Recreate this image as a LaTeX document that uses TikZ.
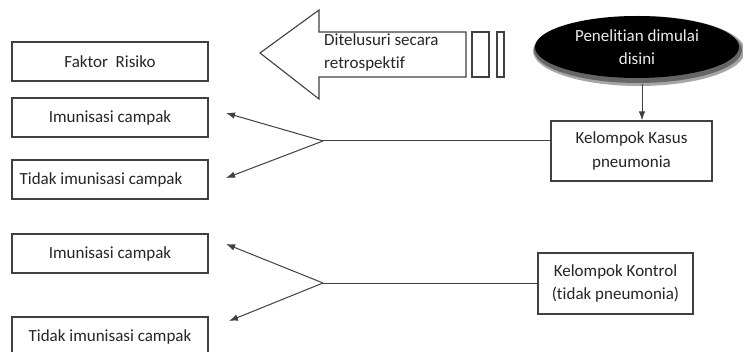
\documentclass[tikz,border=0pt]{standalone}
\usepackage{fontspec}
\setmainfont{Carlito}[Ligatures={NoCommon}]
\usetikzlibrary{arrows.meta,shapes.geometric}
\begin{document}
\begin{tikzpicture}[x=1pt,y=-1pt,
  every node/.style={font=\fontsize{17}{23.5}\selectfont, text=black!85},
  box/.style={draw=black!75, line width=1.2pt, rectangle, inner sep=0pt, align=center},
  conn/.style={draw=black!75, line width=1pt},
  arr/.style={conn, -{Latex[length=9pt,width=6.5pt]}}
]
\useasboundingbox (0,0) rectangle (743,352);
\clip (0,0) rectangle (743,352);
\fill[white] (0,0) rectangle (743,352);

% left boxes
\node[box, minimum width=196pt, minimum height=39pt] (faktor) at (110,61.5) {Faktor\ \ Risiko};
\node[box, minimum width=196pt, minimum height=39pt] (imun1) at (110,117.5) {Imunisasi campak};
\node[box, minimum width=196pt, minimum height=39pt] (tidak1) at (110,179.5) {\hspace*{-18pt}Tidak imunisasi campak};
\node[box, minimum width=196pt, minimum height=39pt] (imun2) at (110,253.5) {Imunisasi campak};
\node[box, minimum width=196pt, minimum height=39pt] (tidak2) at (110,336.5) {\raisebox{1.5pt}{Tidak imunisasi campak}};

% block arrow
\draw[draw=black!75, line width=1.1pt, fill=white] (260,53) -- (319,10) -- (319,32) -- (466,32) -- (466,77) -- (319,77) -- (319,99) -- cycle;
\node[align=left, anchor=north west, inner sep=0pt] (ditel) at (324,33) {Ditelusuri secara\\retrospektif};
\node[draw=black!75, line width=1.1pt, fill=white, minimum width=17pt, minimum height=45pt, inner sep=0pt] (bar1) at (480.5,54.5) {};
\node[draw=black!75, line width=1.1pt, fill=white, minimum width=7pt, minimum height=45pt, inner sep=0pt] (bar2) at (500.5,54.5) {};

% ellipse
\fill[black!35] (639,51) ellipse [x radius=106pt, y radius=35pt];
\fill[black!60] (638,50) ellipse [x radius=104pt, y radius=33pt];
\node[ellipse, fill=black, minimum width=204pt, minimum height=62pt, inner sep=0pt, align=center, text=black!8] (start) at (637,47) {Penelitian dimulai\\disini};

% right boxes
\node[box, minimum width=161pt, minimum height=60pt] (kasus) at (631.5,151) {Kelompok Kasus\\pneumonia};
\node[box, minimum width=155pt, minimum height=61pt] (kontrol) at (615.5,283.5) {Kelompok Kontrol\\(tidak pneumonia)};

% connectors
\coordinate (j1) at (323,141);
\coordinate (j2) at (323,283);
\coordinate (a1) at (226,113);
\coordinate (a2) at (226,178);
\coordinate (a3) at (226,244);
\coordinate (a4) at (229,321);
\coordinate (s1) at (642,84);

\draw[arr] (s1) -- (kasus.north -| s1);
\draw[conn] (kasus.west |- j1) -- (j1);
\draw[arr] (j1) -- (a1);
\draw[arr] (j1) -- (a2);
\draw[conn] (kontrol.west |- j2) -- (j2);
\draw[arr] (j2) -- (a3);
\draw[arr] (j2) -- (a4);
\end{tikzpicture}
\end{document}
